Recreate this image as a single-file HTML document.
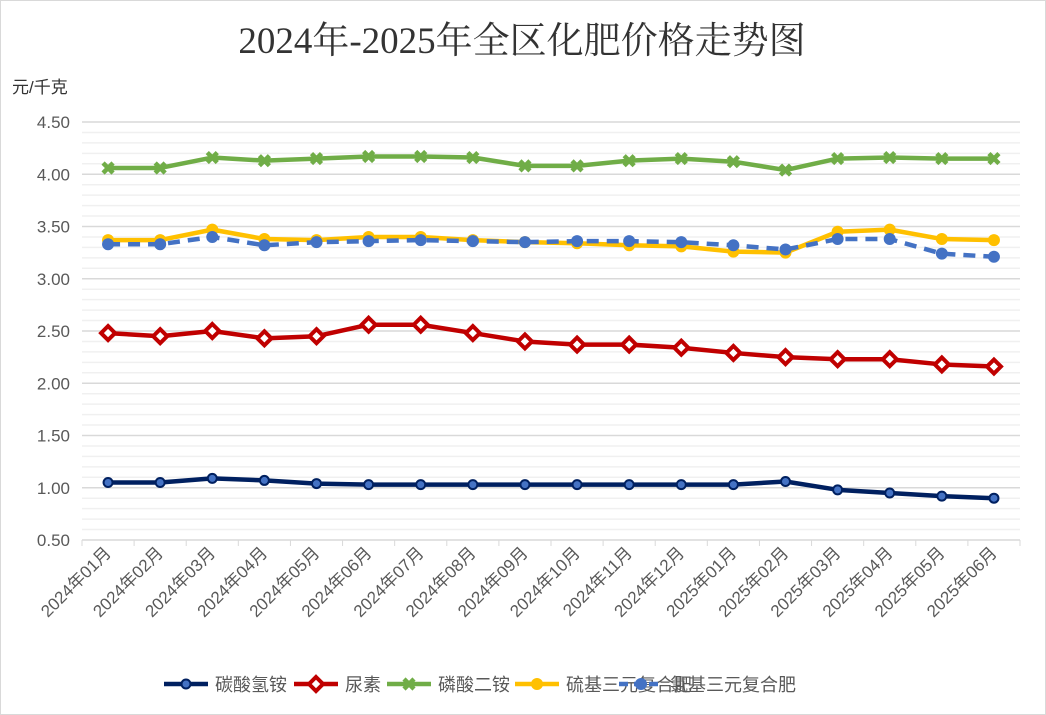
<!DOCTYPE html>
<html><head><meta charset="utf-8"><style>
body{margin:0;background:#fff;}
svg{display:block;font-family:"Liberation Sans","Noto Sans CJK SC",sans-serif;}
</style></head><body>
<svg id="chart" width="1046" height="715">
<rect x="0.5" y="0.5" width="1045" height="714" fill="#fff" stroke="#d9d9d9"/>
<text x="522" y="53" text-anchor="middle" font-size="37" fill="#333" font-family="Liberation Serif,'Noto Serif CJK SC',serif">2024年-2025年全区化肥价格走势图</text>
<text x="12" y="93" font-size="17" fill="#333">元/千克</text>
<g id="grid"></g><g id="axes"></g><g id="series"></g><g id="legend"></g>
</svg>
<script>
const categories=["2024年01月","2024年02月","2024年03月","2024年04月","2024年05月","2024年06月","2024年07月","2024年08月","2024年09月","2024年10月","2024年11月","2024年12月","2025年01月","2025年02月","2025年03月","2025年04月","2025年05月","2025年06月"];
const ammoniumBicarb=[1.05,1.05,1.09,1.07,1.04,1.03,1.03,1.03,1.03,1.03,1.03,1.03,1.03,1.06,0.98,0.95,0.92,0.90];
const urea=[2.48,2.45,2.50,2.43,2.45,2.56,2.56,2.48,2.40,2.37,2.37,2.34,2.29,2.25,2.23,2.23,2.18,2.16];
const dap=[4.06,4.06,4.16,4.13,4.15,4.17,4.17,4.16,4.08,4.08,4.13,4.15,4.12,4.04,4.15,4.16,4.15,4.15];
const sulfurNPK=[3.37,3.37,3.47,3.38,3.37,3.40,3.40,3.37,3.35,3.34,3.32,3.31,3.26,3.25,3.45,3.47,3.38,3.37];
const chlorideNPK=[3.33,3.33,3.40,3.32,3.35,3.36,3.37,3.36,3.35,3.36,3.36,3.35,3.32,3.28,3.38,3.38,3.24,3.21];
const yTicks=["0.50","1.00","1.50","2.00","2.50","3.00","3.50","4.00","4.50"];
const seriesNames=["碳酸氢铵","尿素","磷酸二铵","硫基三元复合肥","氯基三元复合肥"];

const NS="http://www.w3.org/2000/svg";
const L=82,R=1020,T=122,B=540,ymin=0.5,ymax=4.5;
const step=(R-L)/categories.length;
const xs=i=>L+step*(i+0.5);
const ys=v=>B-(v-ymin)/(ymax-ymin)*(B-T);
function mk(tag,attrs,parent){const e=document.createElementNS(NS,tag);for(const k in attrs)e.setAttribute(k,attrs[k]);parent.appendChild(e);return e;}
const grid=document.getElementById('grid'),axes=document.getElementById('axes'),ser=document.getElementById('series'),leg=document.getElementById('legend');
for(let v=0.6;v<4.5;v+=0.1){if(Math.abs(v*2-Math.round(v*2))<0.01)continue;
 const g=mk('line',{x1:L,x2:R,y1:ys(v),y2:ys(v),stroke:'#f0f0f0','stroke-width':1.5},grid);
 
 }
yTicks.forEach(t=>{const v=parseFloat(t);
 const g=mk('line',{x1:L,x2:R,y1:ys(v),y2:ys(v),stroke:'#d9d9d9','stroke-width':1.5},grid);
 
 
 const tx=mk('text',{x:70,y:ys(v)+6,'text-anchor':'end','font-size':17,fill:'#595959'},axes);tx.textContent=t;
 
 });
categories.forEach((c,i)=>{
 const tk=mk('line',{x1:L+step*i,x2:L+step*i,y1:B,y2:B+6,stroke:'#d9d9d9'},axes);
 
 
 const x=xs(i)+4,y=B+14;
 const tx=mk('text',{x:x,y:y,'text-anchor':'end','font-size':17,fill:'#595959',transform:`rotate(-45 ${x} ${y})`},axes);tx.textContent=c;
 
 });
const tk=mk('line',{x1:R,x2:R,y1:B,y2:B+6,stroke:'#d9d9d9'},axes);



function marker(type,x,y,color,parent){
 let e;
 if(type==='circle-dot'){e=mk('circle',{cx:x,cy:y,r:4.5,fill:'#4472c4',stroke:color,'stroke-width':2},parent);}
 else if(type==='diamond'){e=mk('path',{d:`M${x} ${y-7}L${x+7} ${y}L${x} ${y+7}L${x-7} ${y}Z`,fill:'#fff',stroke:color,'stroke-width':4},parent);}
 else if(type==='x'){e=mk('path',{d:`M${x-5} ${y-5}L${x+5} ${y+5}M${x+5} ${y-5}L${x-5} ${y+5}`,stroke:color,'stroke-width':4.5,fill:'none'},parent);}
 else {e=mk('circle',{cx:x,cy:y,r:6,fill:color},parent);}
 return e;}
const defs=[[ammoniumBicarb,'#002060','circle-dot',null],[urea,'#c00000','diamond',null],[dap,'#70ad47','x',null],[sulfurNPK,'#ffc000','circle',null],[chlorideNPK,'#4472c4','circle','12 8']];
const sNames=['ammonium-bicarbonate','urea','diammonium-phosphate','sulfur-npk','chloride-npk'];
defs.forEach((d,k)=>{
 const g=mk('g',{},ser);
 
 
 const attrs={d:d[0].map((v,i)=>(i?'L':'M')+xs(i)+' '+ys(v)).join(''),fill:'none',stroke:d[1],'stroke-width':4.5,'stroke-linejoin':'round'};
 if(d[3])attrs['stroke-dasharray']=d[3];
 const p=mk('path',attrs,g);
 
 
 d[0].forEach((v,i)=>{const m=marker(d[2],xs(i),ys(v),d[1],g);
  
  });
 if(d[2]==='diamond')d[0].forEach((v,i)=>{const c=mk('circle',{cx:xs(i),cy:ys(v),r:1.3,fill:'#fff'},g);
  
  });
});
const legX=[164,294,387,515,619];
defs.forEach((d,k)=>{
 const g=mk('g',{},leg);
 
 
 const y=684,x=legX[k];
 const a={x1:x,x2:x+44,y1:y,y2:y,stroke:d[1],'stroke-width':4.5};
 if(d[3])a['stroke-dasharray']='9 6';
 mk('line',a,g);
 marker(d[2],x+22,y,d[1],g);
 const t=mk('text',{x:x+51,y:y+7,'font-size':18,fill:'#595959'},g);t.textContent=seriesNames[k];
});
</script>
</body></html>
